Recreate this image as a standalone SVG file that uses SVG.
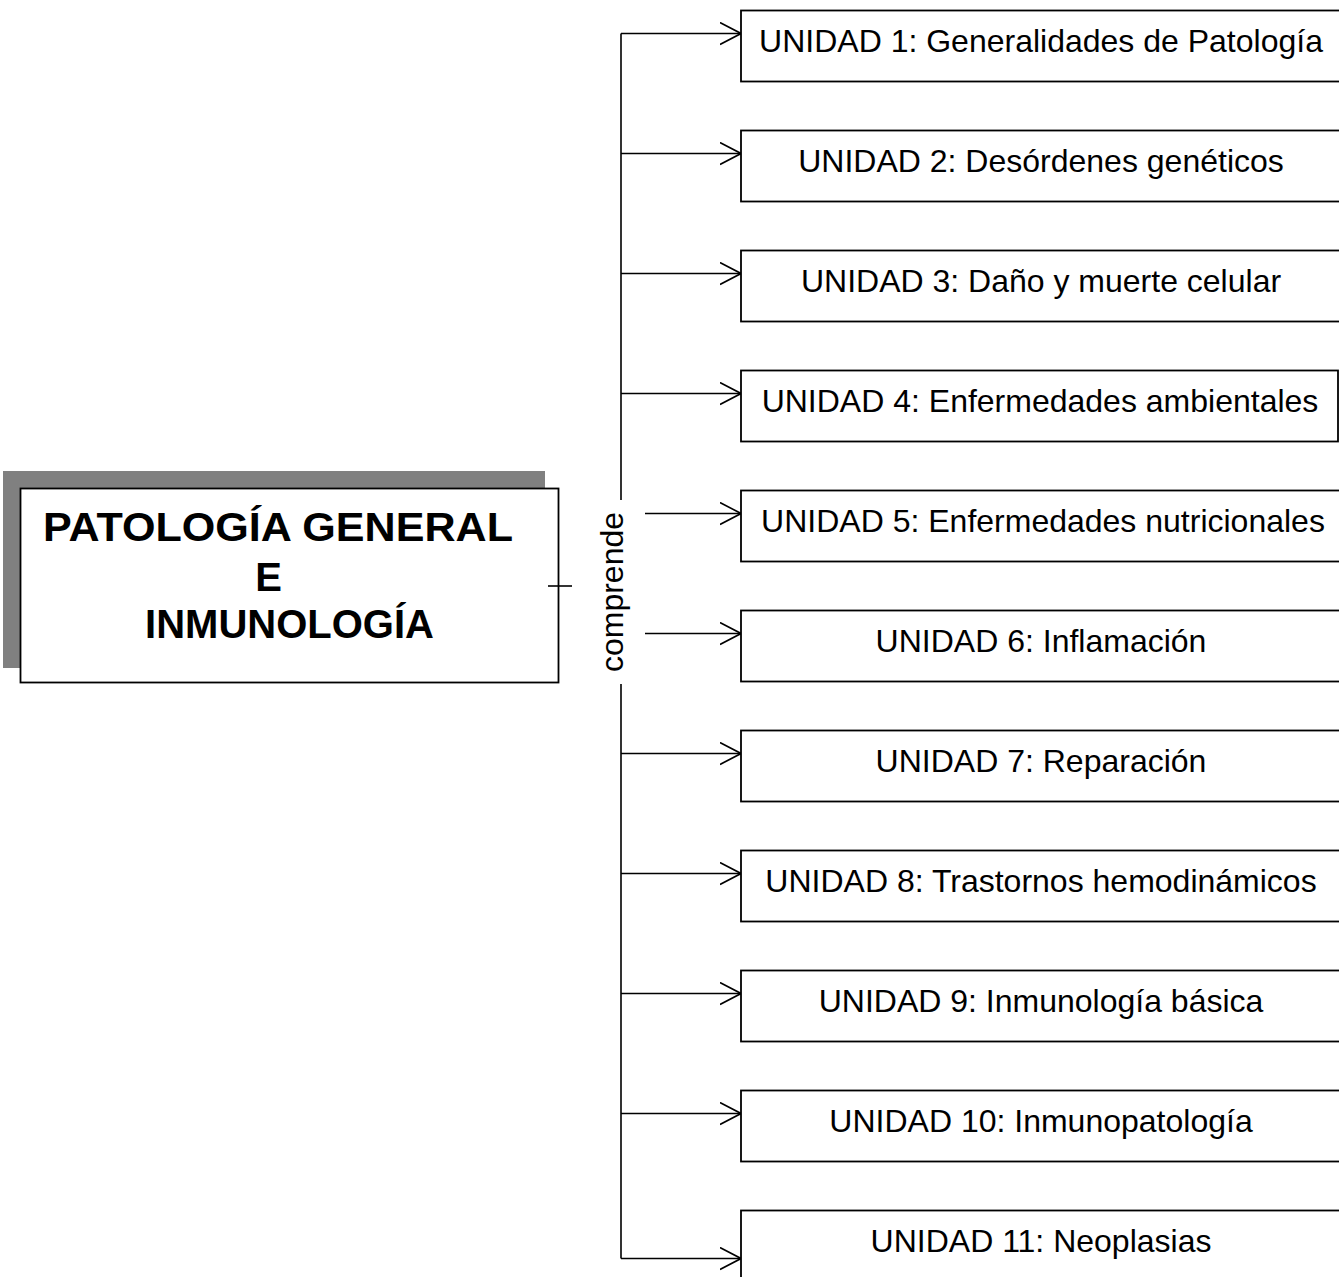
<svg xmlns="http://www.w3.org/2000/svg" width="1339" height="1277" viewBox="0 0 1339 1277">
  <style>
    .bg { fill: #ffffff; }
    .box { fill: #ffffff; stroke: #000000; stroke-width: 1.8; }
    .shadow { fill: #808080; }
    .unit { font-family: "Liberation Sans", Arial, sans-serif; font-size: 32px; fill: #000000; text-anchor: middle; }
    .title { font-family: "Liberation Sans", Arial, sans-serif; font-size: 40px; font-weight: bold; fill: #000000; text-anchor: middle; }
    .lbl { font-family: "Liberation Sans", Arial, sans-serif; font-size: 32px; fill: #000000; text-anchor: middle; }
    .wire { fill: none; stroke: #000000; stroke-width: 1.6; }
  </style>
  <defs>
    <marker id="open" viewBox="0 0 22 24" refX="21" refY="12" markerWidth="22" markerHeight="24" markerUnits="userSpaceOnUse" orient="auto">
      <path d="M0,1 L21,12 L0,23" fill="none" stroke="#000000" stroke-width="1.6"/>
    </marker>
  </defs>
  <rect class="bg" x="0" y="0" width="1339" height="1277"/>

  <!-- main topic -->
  <g id="main">
    <rect class="shadow" x="3" y="471" width="542" height="197"/>
    <rect class="box" x="20.5" y="488.5" width="538" height="194"/>
    <text class="title" x="278" y="540.5" textLength="470" lengthAdjust="spacingAndGlyphs">PATOLOGÍA GENERAL</text>
    <text class="title" x="268.5" y="590.5">E</text>
    <text class="title" x="289.5" y="637.5">INMUNOLOGÍA</text>
  </g>

  <!-- connectors -->
  <g id="connectors">
    <line class="wire" x1="548" y1="586" x2="572" y2="586"/>
    <text class="lbl" transform="translate(623 592) rotate(-90)">comprende</text>
    <path class="wire" d="M621,33.5 V500 M621,684 V1258.5"/>
    <line class="wire" x1="621" y1="33.5" x2="741" y2="33.5" marker-end="url(#open)"/>
    <line class="wire" x1="621" y1="153.5" x2="741" y2="153.5" marker-end="url(#open)"/>
    <line class="wire" x1="621" y1="273.5" x2="741" y2="273.5" marker-end="url(#open)"/>
    <line class="wire" x1="621" y1="393.5" x2="741" y2="393.5" marker-end="url(#open)"/>
    <line class="wire" x1="645" y1="513.5" x2="741" y2="513.5" marker-end="url(#open)"/>
    <line class="wire" x1="645" y1="633.5" x2="741" y2="633.5" marker-end="url(#open)"/>
    <line class="wire" x1="621" y1="753.5" x2="741" y2="753.5" marker-end="url(#open)"/>
    <line class="wire" x1="621" y1="873.5" x2="741" y2="873.5" marker-end="url(#open)"/>
    <line class="wire" x1="621" y1="993.5" x2="741" y2="993.5" marker-end="url(#open)"/>
    <line class="wire" x1="621" y1="1113.5" x2="741" y2="1113.5" marker-end="url(#open)"/>
    <line class="wire" x1="621" y1="1258.5" x2="741" y2="1258.5" marker-end="url(#open)"/>
  </g>

  <!-- units -->
  <g id="u1"><rect class="box" x="741" y="10.5" width="604" height="71"/><text class="unit" x="1041" y="52">UNIDAD 1: Generalidades de Patología</text></g>
  <g id="u2"><rect class="box" x="741" y="130.5" width="604" height="71"/><text class="unit" x="1041" y="172">UNIDAD 2: Desórdenes genéticos</text></g>
  <g id="u3"><rect class="box" x="741" y="250.5" width="604" height="71"/><text class="unit" x="1041" y="292">UNIDAD 3: Daño y muerte celular</text></g>
  <g id="u4"><rect class="box" x="741" y="370.5" width="597" height="71"/><text class="unit" x="1040" y="412">UNIDAD 4: Enfermedades ambientales</text></g>
  <g id="u5"><rect class="box" x="741" y="490.5" width="604" height="71"/><text class="unit" x="1043" y="532">UNIDAD 5: Enfermedades nutricionales</text></g>
  <g id="u6"><rect class="box" x="741" y="610.5" width="604" height="71"/><text class="unit" x="1041" y="652">UNIDAD 6: Inflamación</text></g>
  <g id="u7"><rect class="box" x="741" y="730.5" width="604" height="71"/><text class="unit" x="1041" y="772">UNIDAD 7: Reparación</text></g>
  <g id="u8"><rect class="box" x="741" y="850.5" width="604" height="71"/><text class="unit" x="1041" y="892">UNIDAD 8: Trastornos hemodinámicos</text></g>
  <g id="u9"><rect class="box" x="741" y="970.5" width="604" height="71"/><text class="unit" x="1041" y="1012">UNIDAD 9: Inmunología básica</text></g>
  <g id="u10"><rect class="box" x="741" y="1090.5" width="604" height="71"/><text class="unit" x="1041" y="1132">UNIDAD 10: Inmunopatología</text></g>
  <g id="u11"><rect class="box" x="741" y="1210.5" width="604" height="80"/><text class="unit" x="1041" y="1252">UNIDAD 11: Neoplasias</text></g>
</svg>
